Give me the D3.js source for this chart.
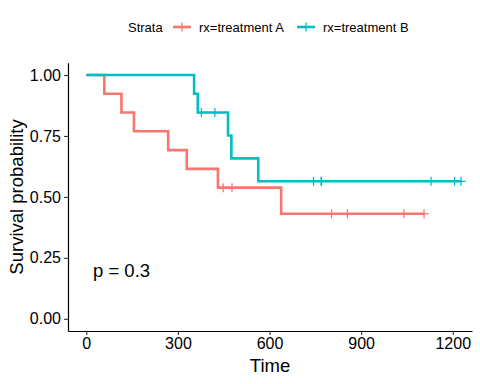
<!DOCTYPE html>
<html>
<head>
<meta charset="utf-8">
<script src="https://cdn.jsdelivr.net/npm/d3@7"></script>
<style>
  body { margin: 0; background: #fff; }
  svg { display: block; font-family: "Liberation Sans", Arial, sans-serif; }
</style>
</head>
<body>
<script>
// Kaplan-Meier steps
const strata = ["rx=treatment A", "rx=treatment B"];
const colors = ["#F8766D", "#00BFC4"];

const timesA = [0, 59, 115, 156, 268, 329, 431, 638, 1106];
const survA = [1, 0.923, 0.846, 0.769, 0.692, 0.615, 0.538, 0.431, 0.431];
const censorA = [448, 477, 803, 855, 1040, 1106];

const timesB = [0, 353, 365, 464, 475, 563, 1227];
const survB = [1, 0.923, 0.846, 0.752, 0.658, 0.564, 0.564];
const censorB = [377, 421, 744, 769, 770, 1129, 1206, 1227];

const xTicks = [0, 300, 600, 900, 1200];
const yTicks = [0, 0.25, 0.5, 0.75, 1];
const pLabel = "p = 0.3";

const W = 480, H = 384;

const svg = d3.select("body").append("svg")
  .attr("width", W)
  .attr("height", H);

const x = d3.scaleLinear().domain([-60, 1263]).range([68, 472]);
const y = d3.scaleLinear().domain([-0.05, 1.05]).range([331, 62.8]);

// axes
const xAxis = svg.append("g")
  .attr("transform", "translate(0," + y(-0.05) + ")")
  .call(d3.axisBottom(x).tickValues(xTicks).tickFormat(d3.format("d")).tickSize(4).tickPadding(3).tickSizeOuter(0));
const yAxis = svg.append("g")
  .attr("transform", "translate(" + x(-60) + ",0)")
  .call(d3.axisLeft(y).tickValues(yTicks).tickFormat(d3.format(".2f")).tickSize(4).tickPadding(3).tickSizeOuter(0));

[xAxis, yAxis].forEach(a => {
  a.select(".domain").attr("stroke", "#000").attr("stroke-width", 1.2);
  a.selectAll(".tick line").attr("stroke", "#333").attr("stroke-width", 1.1);
  a.selectAll(".tick text").attr("fill", "#000").attr("font-size", 16)
    .style("font-family", "Liberation Sans, Arial, sans-serif");
});

// survival curves
const groups = [
  {times: timesA, surv: survA, censor: censorA},
  {times: timesB, surv: survB, censor: censorB}
];

const line = d3.line()
  .x(d => x(d[0]))
  .y(d => y(d[1]))
  .curve(d3.curveStepAfter);

function survAt(g, t) {
  let s = 1;
  g.times.forEach((tt, i) => { if (tt <= t) s = g.surv[i]; });
  return s;
}

groups.forEach((g, i) => {
  svg.append("path")
    .datum(d3.zip(g.times, g.surv))
    .attr("fill", "none")
    .attr("stroke", colors[i])
    .attr("stroke-width", 2.6)
    .attr("d", line);

  const marks = svg.append("g");
  g.censor.forEach(t => {
    const cx = x(t), cy = y(survAt(g, t));
    marks.append("line")
      .attr("x1", cx).attr("x2", cx)
      .attr("y1", cy - 4.5).attr("y2", cy + 4.5)
      .attr("stroke", colors[i]).attr("stroke-width", 1.3);
    marks.append("line")
      .attr("x1", cx - 4.5).attr("x2", cx + 4.5)
      .attr("y1", cy).attr("y2", cy)
      .attr("stroke", colors[i]).attr("stroke-width", 1.3);
  });
});

// p value
svg.append("text")
  .attr("x", 93)
  .attr("y", y(0.2))
  .attr("dy", "0.35em")
  .attr("font-size", 18.5)
  .attr("fill", "#000")
  .text(pLabel);

// axis titles
svg.append("text")
  .attr("x", 270)
  .attr("y", 372)
  .attr("text-anchor", "middle")
  .attr("font-size", 18.5)
  .attr("fill", "#000")
  .text("Time");

svg.append("text")
  .attr("transform", "translate(23,197) rotate(-90)")
  .attr("text-anchor", "middle")
  .attr("font-size", 18.5)
  .attr("fill", "#000")
  .text("Survival probability");

// legend
const legend = svg.append("g").attr("font-size", 13);
legend.append("text")
  .attr("x", 128).attr("y", 27).attr("dy", "0.35em")
  .attr("fill", "#000")
  .text("Strata");

const keyX = [173, 297];
strata.forEach((s, i) => {
  const k = legend.append("g").attr("transform", "translate(" + keyX[i] + ",27)");
  k.append("line").attr("x1", 0).attr("x2", 18).attr("y1", 0).attr("y2", 0)
    .attr("stroke", colors[i]).attr("stroke-width", 2.6);
  k.append("line").attr("x1", 9).attr("x2", 9).attr("y1", -4.5).attr("y2", 4.5)
    .attr("stroke", colors[i]).attr("stroke-width", 1.3);
  k.append("text").attr("x", 26).attr("dy", "0.35em")
    .attr("fill", "#000")
    .text(s);
});
</script>
</body>
</html>
